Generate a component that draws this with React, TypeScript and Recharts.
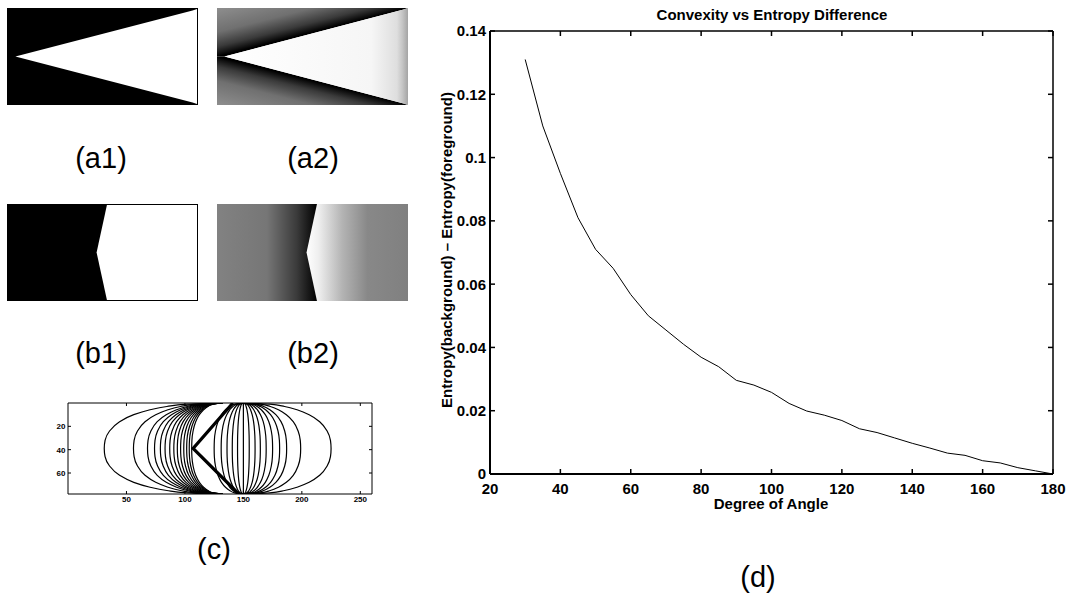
import React from "react";
import { LineChart, Line, XAxis, YAxis, ComposedChart, Area } from "recharts";

const FONT = '"Liberation Sans", Arial, Helvetica, sans-serif';

// ---------------------------------------------------------------------------
// (d) Convexity vs entropy difference
// ---------------------------------------------------------------------------
const angles = [
  30, 35, 40, 45, 50, 55, 60, 65, 70, 75, 80, 85, 90, 95, 100, 105, 110, 115, 120, 125, 130, 135,
  140, 145, 150, 155, 160, 165, 170, 175, 180,
];
const entropyDiff = [
  0.131, 0.11, 0.095, 0.081, 0.071, 0.065, 0.0567, 0.05, 0.0455, 0.041, 0.0369, 0.0339, 0.0296,
  0.0281, 0.0258, 0.0223, 0.0199, 0.0186, 0.0169, 0.0143, 0.0131, 0.0114, 0.0097, 0.0082, 0.0066,
  0.0059, 0.0042, 0.0035, 0.002, 0.001, 0,
];
const angleTicks = [20, 40, 60, 80, 100, 120, 140, 160, 180];
const entropyTicks = [0, 0.02, 0.04, 0.06, 0.08, 0.1, 0.12, 0.14];

// ---------------------------------------------------------------------------
// (c) contour panel: each level line runs from an end point on the top edge,
// bulges out to its mid x at row 39 and comes back to the bottom edge
// ---------------------------------------------------------------------------
const contourRows = [0, 1, 3, 6, 10, 16, 24, 32, 39, 46, 54, 62, 68, 72, 75, 77, 78];
const contourBulge = [0, 0.3, 0.47, 0.62, 0.75, 0.87, 0.955, 0.993, 1, 0.993, 0.955, 0.87, 0.75, 0.62, 0.47, 0.3, 0];
const leftEnd = 132;
const leftMids = [31, 56, 68, 74, 79, 83, 87, 90.5, 93.5, 96.3, 99, 101.5, 103.7, 105.8];
const rightEnd = 150;
const rightMids = [125, 131, 136, 140.5, 145, 150, 155, 160, 164.5, 169.5, 175, 181, 187, 199, 225];
const wedgeRows = [0, 39, 78];
const wedgeEdge = [141, 107, 146];
const contourXTicks = [50, 100, 150, 200, 250];
const contourYTicks = [20, 40, 60];

// ---------------------------------------------------------------------------
// (a) wedge images and (b) edge images, 128 x 64 pixel grid (row 0 at bottom)
// ---------------------------------------------------------------------------
const wedgeCols = [0, 5, 125, 128];
const wedgeFull = [[0, 64], [0, 64], [0, 64], [0, 64]];
const wedgeInside = [null, [32, 32], [1, 63], [0, 64]];
const wedgeAbove = [[32, 64], [32, 64], [63, 64], [64, 64]];
const wedgeBelow = [[0, 32], [0, 32], [0, 1], [0, 0]];

const edgeCols = [0, 60, 67, 128];
const edgeFull = [[0, 64], [0, 64], [0, 64], [0, 64]];
const edgeLeft = [[0, 64], [0, 64], [0, 64], null];
const edgeRight = [null, [32, 32], [0, 64], [0, 64]];

const wedgeData = wedgeCols.map((x, i) => ({
  x,
  full: wedgeFull[i],
  inside: wedgeInside[i],
  above: wedgeAbove[i],
  below: wedgeBelow[i],
}));
const edgeData = edgeCols.map((x, i) => ({ x, full: edgeFull[i], left: edgeLeft[i], right: edgeRight[i] }));
const mainData = angles.map((angle, i) => ({ angle, diff: entropyDiff[i] }));

const contourCurve = (end: number, mid: number) =>
  contourRows.map((y, i) => ({ y, x: end + (mid - end) * contourBulge[i] }));
const contourLines = [
  ...leftMids.map((m) => contourCurve(leftEnd, m)),
  ...rightMids.map((m) => contourCurve(rightEnd, m)),
];
const wedgeLine = wedgeRows.map((y, i) => ({ y, x: wedgeEdge[i] }));

// plot boxes (chart-local px), set by the margins + axis sizes below
const D_LEFT = 70;
const D_RIGHT = 633;
const D_TOP = 31;
const D_BOTTOM = 474;
const C_LEFT = 28;
const C_RIGHT = 332;
const C_TOP = 8;
const C_BOTTOM = 99;

const boldText = (size: number) => ({ fontFamily: FONT, fontSize: size, fontWeight: 700, fill: "#000" });

// inward tick marks + MATLAB-like labels
const makeTicks = (bottom: number, left: number, top: number, right: number, len: number, size: number, labelGap: number, below: number, sw: number) => ({
  bottom: (p: any) => (
    <g>
      <line x1={p.x} x2={p.x} y1={bottom} y2={bottom - len} stroke="#000" strokeWidth={sw} />
      <text x={p.x} y={bottom + below} textAnchor="middle" {...boldText(size)}>{p.payload.value}</text>
    </g>
  ),
  left: (p: any) => (
    <g>
      <line x1={left} x2={left + len} y1={p.y} y2={p.y} stroke="#000" strokeWidth={sw} />
      <text x={left - labelGap} y={p.y + size * 0.36} textAnchor="end" {...boldText(size)}>{p.payload.value}</text>
    </g>
  ),
  top: (p: any) => <line x1={p.x} x2={p.x} y1={top} y2={top + len} stroke="#000" strokeWidth={sw} />,
  right: (p: any) => <line x1={right} x2={right - len} y1={p.y} y2={p.y} stroke="#000" strokeWidth={sw} />,
});

const dTicks = makeTicks(D_BOTTOM, D_LEFT, D_TOP, D_RIGHT, 5, 15, 4, 19.5, 1.5);
const cTicks = makeTicks(C_BOTTOM, C_LEFT, C_TOP, C_RIGHT, 3, 8, 2.5, 7.5, 1);

// ---------------------------------------------------------------------------
function ImagePanel({
  kind,
  left,
  top,
  border,
}: {
  kind: "a1" | "a2" | "b1" | "b2";
  left: number;
  top: number;
  border?: boolean;
}) {
  const w = border ? 189 : 191;
  const h = border ? 95 : 97;
  const wedge = kind === "a1" || kind === "a2";
  const areaProps = { type: "linear" as const, stroke: "none", fillOpacity: 1, isAnimationActive: false, dot: false, activeDot: false };
  return (
    <div
      style={{
        position: "absolute",
        left,
        top,
        width: 191,
        height: 97,
        boxSizing: "border-box",
        border: border ? "1px solid #000" : "none",
      }}
    >
      <ComposedChart width={w} height={h} data={wedge ? wedgeData : edgeData} margin={{ top: 0, right: 0, bottom: 0, left: 0 }}>
        <defs>
          <linearGradient id={`${kind}Above`} x1="0" y1="0" x2="0.5" y2="0.5">
            <stop offset="0" stopColor="#8e8e8e" />
            <stop offset="0.5" stopColor="#707070" />
            <stop offset="0.8" stopColor="#3a3a3a" />
            <stop offset="1" stopColor="#000000" />
          </linearGradient>
          <linearGradient id={`${kind}Below`} x1="0" y1="1" x2="0.5" y2="0.5">
            <stop offset="0" stopColor="#8e8e8e" />
            <stop offset="0.5" stopColor="#707070" />
            <stop offset="0.8" stopColor="#3a3a3a" />
            <stop offset="1" stopColor="#000000" />
          </linearGradient>
          <linearGradient id={`${kind}Inside`} x1="0" y1="0" x2="1" y2="0">
            <stop offset="0" stopColor="#ffffff" />
            <stop offset="0.8" stopColor="#f6f6f6" />
            <stop offset="0.94" stopColor="#dedede" />
            <stop offset="0.97" stopColor="#c4c4c4" />
            <stop offset="1" stopColor="#a4a4a4" />
          </linearGradient>
          <linearGradient id={`${kind}Left`} x1="0" y1="0" x2="1" y2="0">
            <stop offset="0" stopColor="#828282" />
            <stop offset="0.5" stopColor="#767676" />
            <stop offset="0.8" stopColor="#3a3a3a" />
            <stop offset="1" stopColor="#000000" />
          </linearGradient>
          <linearGradient id={`${kind}Right`} x1="0" y1="0" x2="1" y2="0">
            <stop offset="0" stopColor="#ffffff" />
            <stop offset="0.12" stopColor="#eeeeee" />
            <stop offset="0.35" stopColor="#b4b4b4" />
            <stop offset="0.6" stopColor="#888888" />
            <stop offset="1" stopColor="#808080" />
          </linearGradient>
        </defs>
        <XAxis type="number" dataKey="x" domain={[0, 128]} hide />
        <YAxis type="number" domain={[0, 64]} hide />
        {kind === "a1" && <Area {...areaProps} dataKey="full" fill="#000" />}
        {kind === "a1" && <Area {...areaProps} dataKey="inside" fill="#fff" />}
        {kind === "a2" && <Area {...areaProps} dataKey="above" fill={`url(#${kind}Above)`} />}
        {kind === "a2" && <Area {...areaProps} dataKey="below" fill={`url(#${kind}Below)`} />}
        {kind === "a2" && <Area {...areaProps} dataKey="inside" fill={`url(#${kind}Inside)`} />}
        {kind === "b1" && <Area {...areaProps} dataKey="full" fill="#000" />}
        {kind === "b1" && <Area {...areaProps} dataKey="right" fill="#fff" />}
        {kind === "b2" && <Area {...areaProps} dataKey="left" fill={`url(#${kind}Left)`} />}
        {kind === "b2" && <Area {...areaProps} dataKey="right" fill={`url(#${kind}Right)`} />}
      </ComposedChart>
    </div>
  );
}

function ContourPanel() {
  return (
    <div style={{ position: "absolute", left: 40, top: 395 }}>
      <LineChart layout="vertical" width={340} height={115} margin={{ top: 7, right: 7, bottom: 1, left: 8 }}>
        <XAxis xAxisId="b" type="number" domain={[0, 260]} ticks={contourXTicks} interval={0} height={15}
          tickLine={false} tick={cTicks.bottom} stroke="#000" allowDataOverflow />
        <XAxis xAxisId="t" orientation="top" type="number" domain={[0, 260]} ticks={contourXTicks} interval={0} height={1}
          tickLine={false} tick={cTicks.top} stroke="#000" allowDataOverflow />
        <YAxis yAxisId="l" type="number" dataKey="y" domain={[0, 78]} ticks={contourYTicks} interval={0} width={20}
          tickLine={false} tick={cTicks.left} stroke="#000" allowDataOverflow />
        <YAxis yAxisId="r" orientation="right" type="number" dataKey="y" domain={[0, 78]} ticks={contourYTicks} interval={0} width={1}
          tickLine={false} tick={cTicks.right} stroke="#000" allowDataOverflow />
        {contourLines.map((pts, i) => (
          <Line key={i} xAxisId="b" yAxisId="l" data={pts} dataKey="x" type="monotone" stroke="#000"
            strokeWidth={1.2} dot={false} activeDot={false} isAnimationActive={false} />
        ))}
        <Line xAxisId="b" yAxisId="l" data={wedgeLine} dataKey="x" type="linear" stroke="#000"
          strokeWidth={3.2} dot={false} activeDot={false} isAnimationActive={false} />
        <Line xAxisId="t" yAxisId="r" data={wedgeLine} dataKey="x" stroke="none" dot={false} activeDot={false} isAnimationActive={false} />
      </LineChart>
    </div>
  );
}

function EntropyChart() {
  return (
    <div style={{ position: "absolute", left: 420, top: 0 }}>
      <LineChart width={648} height={599} data={mainData} margin={{ top: 30, right: 14, bottom: 95, left: 30 }}>
        <XAxis xAxisId="b" type="number" dataKey="angle" domain={[20, 180]} ticks={angleTicks} interval={0} height={30}
          tickLine={false} tick={dTicks.bottom} stroke="#000" strokeWidth={2} allowDataOverflow />
        <XAxis xAxisId="t" orientation="top" type="number" dataKey="angle" domain={[20, 180]} ticks={angleTicks} interval={0} height={1}
          tickLine={false} tick={dTicks.top} stroke="#000" strokeWidth={1.5} allowDataOverflow />
        <YAxis yAxisId="l" type="number" domain={[0, 0.14]} ticks={entropyTicks} interval={0} width={40}
          tickLine={false} tick={dTicks.left} stroke="#000" strokeWidth={2} allowDataOverflow />
        <YAxis yAxisId="r" orientation="right" type="number" domain={[0, 0.14]} ticks={entropyTicks} interval={0} width={1}
          tickLine={false} tick={dTicks.right} stroke="#000" strokeWidth={1.5} allowDataOverflow />
        <Line xAxisId="b" yAxisId="l" dataKey="diff" type="linear" stroke="#000" strokeWidth={1}
          dot={false} activeDot={false} isAnimationActive={false} />
        <Line xAxisId="t" yAxisId="r" dataKey="diff" stroke="none" dot={false} activeDot={false} isAnimationActive={false} />
      </LineChart>
    </div>
  );
}

function Caption({ x, y, size, bold, rotate, children }: {
  x: number; y: number; size: number; bold?: boolean; rotate?: boolean; children: React.ReactNode;
}) {
  return (
    <div
      style={{
        position: "absolute",
        left: x,
        top: y,
        transform: `translate(-50%, -50%)${rotate ? " rotate(-90deg)" : ""}`,
        fontFamily: FONT,
        fontSize: size,
        fontWeight: bold ? 700 : 400,
        lineHeight: 1,
        whiteSpace: "nowrap",
        color: "#000",
      }}
    >
      {children}
    </div>
  );
}

export default function App() {
  return (
    <div style={{ position: "absolute", left: 0, top: 0, width: 1068, height: 599, background: "#fff", overflow: "hidden" }}>
      <ImagePanel kind="a1" left={7} top={8} border />
      <ImagePanel kind="a2" left={217} top={8} />
      <ImagePanel kind="b1" left={7} top={204} border />
      <ImagePanel kind="b2" left={217} top={204} />
      <ContourPanel />
      <EntropyChart />

      <Caption x={101} y={158} size={29}>(a1)</Caption>
      <Caption x={313} y={158} size={29}>(a2)</Caption>
      <Caption x={101} y={353} size={29}>(b1)</Caption>
      <Caption x={313} y={353} size={29}>(b2)</Caption>
      <Caption x={214} y={549} size={29}>(c)</Caption>
      <Caption x={758} y={577} size={29}>(d)</Caption>

      <Caption x={772} y={14} size={15} bold>Convexity vs Entropy Difference</Caption>
      <Caption x={771} y={503} size={15} bold>Degree of Angle</Caption>
      <Caption x={446} y={250} size={15} bold rotate>Entropy(background) – Entropy(foreground)</Caption>
    </div>
  );
}
